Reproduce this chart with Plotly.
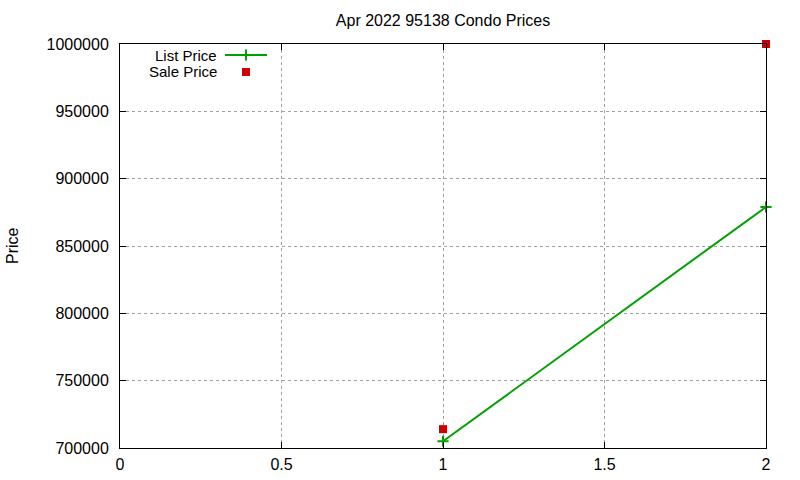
import plotly.graph_objects as go

x_vals = [1, 2]
list_price = [705000, 879000]
sale_price = [714000, 1000000]

title = "Apr 2022 95138 Condo Prices"
y_label = "Price"
series_names = ["List Price", "Sale Price"]

green = "#00a000"
red = "#cc0000"
font = dict(family="Liberation Sans, Arial, sans-serif", size=16, color="black")
legend_font = dict(family="Liberation Sans, Arial, sans-serif", size=15, color="black")

fig = go.Figure()
fig.add_trace(go.Scatter(x=x_vals, y=list_price, mode="lines+markers", name=series_names[0],
                         line=dict(color=green, width=2),
                         marker=dict(symbol="cross-thin", size=8, line=dict(color=green, width=2)),
                         showlegend=False, cliponaxis=False))
fig.add_trace(go.Scatter(x=x_vals, y=sale_price, mode="markers", name=series_names[1],
                         marker=dict(symbol="square", size=8, color=red),
                         showlegend=False, cliponaxis=False))

# custom gnuplot-style legend (text left, sample right) on an overlay axis in paper units
lx0, lx1, lxm = 0.1625, 0.2276, 0.195
ly1, ly2 = (448 - 55) / 404, (448 - 72) / 404
fig.add_trace(go.Scatter(x=[lx0, lxm, lx1], y=[ly1, ly1, ly1], mode="lines", xaxis="x2", yaxis="y2",
                         line=dict(color=green, width=2), showlegend=False, hoverinfo="skip"))
fig.add_trace(go.Scatter(x=[lxm], y=[ly1], mode="markers", xaxis="x2", yaxis="y2",
                         marker=dict(symbol="cross-thin", size=8, line=dict(color=green, width=2)),
                         showlegend=False, hoverinfo="skip"))
fig.add_trace(go.Scatter(x=[lxm], y=[ly2], mode="markers", xaxis="x2", yaxis="y2",
                         marker=dict(symbol="square", size=8, color=red),
                         showlegend=False, hoverinfo="skip"))
for name, yy in zip(series_names, [ly1, ly2]):
    fig.add_annotation(x=0.151, y=yy, xref="paper", yref="paper", text=name, showarrow=False,
                       xanchor="right", yanchor="middle", font=legend_font, borderpad=0)

# y axis label
fig.add_annotation(x=(12 - 120) / 646, y=0.5, xref="paper", yref="paper", text=y_label, showarrow=False,
                   textangle=-90, xanchor="center", yanchor="middle", font=font)

axis_common = dict(showline=True, linecolor="black", linewidth=1, mirror="allticks",
                   ticks="inside", ticklen=6, tickcolor="black",
                   showgrid=True, gridcolor="#a0a0a0", griddash="dot", gridwidth=1,
                   zeroline=False, tickfont=font, automargin=False)

fig.update_layout(
    width=800, height=480, autosize=False,
    margin=dict(l=120, r=34, t=44, b=32, autoexpand=False),
    paper_bgcolor="white", plot_bgcolor="white",
    title=dict(text=title, x=0.5, xref="paper", xanchor="center",
               y=1 - 20 / 480, yref="container", yanchor="middle", font=font),
    xaxis=dict(range=[0, 2], tickvals=[0, 0.5, 1, 1.5, 2], ticktext=["0", "0.5", "1", "1.5", "2"],
               ticklabelstandoff=2, **axis_common),
    yaxis=dict(range=[700000, 1000000], dtick=50000, tickformat="d",
               ticklabelstandoff=7, **axis_common),
    xaxis2=dict(overlaying="x", range=[0, 1], visible=False),
    yaxis2=dict(overlaying="y", range=[0, 1], visible=False),
    font=font,
)

fig.write_html("out.html", config={"displayModeBar": False},
               post_script="document.body.style.margin='0';")
